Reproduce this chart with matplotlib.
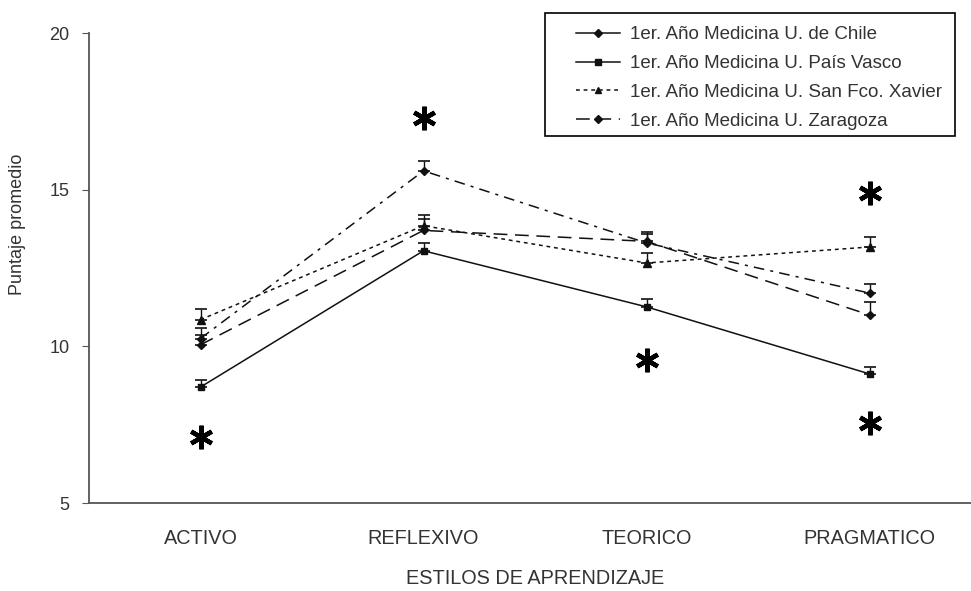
import matplotlib
matplotlib.use("Agg")
import matplotlib.pyplot as plt
from matplotlib.lines import Line2D
from matplotlib.patches import Rectangle

plt.rcParams['font.family'] = ['Liberation Sans', 'DejaVu Sans']

categorias = ["ACTIVO", "REFLEXIVO", "TEORICO", "PRAGMATICO"]

# puntaje promedio y error (solo barra superior)
chile = [10.25, 15.6, 13.3, 11.7]
chile_err = [0.35, 0.3, 0.3, 0.3]
vasco = [8.7, 13.05, 11.26, 9.12]
vasco_err = [0.22, 0.25, 0.25, 0.22]
xavier = [10.85, 13.85, 12.66, 13.17]
xavier_err = [0.35, 0.35, 0.32, 0.33]
zaragoza = [10.05, 13.7, 13.35, 11.0]
zaragoza_err = [0.3, 0.35, 0.3, 0.4]

# posiciones de los asteriscos (diferencias significativas)
ast_x = [0, 1, 2, 3, 3]
ast_y = [7.1, 17.3, 9.55, 14.9, 7.55]

etiquetas = ["1er. Año Medicina U. de Chile",
             "1er. Año Medicina U. País Vasco",
             "1er. Año Medicina U. San Fco. Xavier",
             "1er. Año Medicina U. Zaragoza"]

W, H = 971, 591
fig = plt.figure(figsize=(W/100, H/100), dpi=100)
ax = fig.add_axes([89/W, 88/H, 892/W, 470/H])

x = list(range(len(categorias)))
col = "#111111"
gris = "#333333"

def serie(y, err, marker, ms, dashes):
    ax.errorbar(x, y, yerr=[[0]*len(err), err], fmt='none', ecolor=col,
                elinewidth=1, capsize=4, capthick=1.2, zorder=3)
    ln, = ax.plot(x, y, color=col, lw=1.1, marker=marker, ms=ms,
                  markerfacecolor=col, markeredgecolor=col, zorder=4)
    if dashes:
        ln.set_dashes(dashes)

serie(chile, chile_err, 'D', 4.5, (7, 4, 2, 4))
serie(vasco, vasco_err, 's', 5, None)
serie(xavier, xavier_err, '^', 5.5, (2.5, 2.5))
serie(zaragoza, zaragoza_err, 'D', 4.5, (9, 5))

ax.plot(ast_x, ast_y, linestyle='none', marker=(6, 2, 0), ms=17,
        mew=3.2, color='black', zorder=5)

ax.set_xlim(-0.5, 3.5)
ax.set_ylim(5, 20)
ax.set_yticks([5, 10, 15, 20])
ax.set_xticks(x)
ax.set_xticklabels(categorias)
for s in ['top', 'right']:
    ax.spines[s].set_visible(False)
for s in ['left', 'bottom']:
    ax.spines[s].set_color('#555555')
    ax.spines[s].set_linewidth(1.3)
ax.tick_params(axis='y', direction='out', length=5, color='#555555',
               labelsize=13, labelcolor=gris, pad=9)
ax.tick_params(axis='x', length=0, labelsize=14.3, labelcolor=gris, pad=19)
fig.text(18/W, 1 - 224/H, "Puntaje promedio", rotation=90, ha='center',
         va='center', fontsize=13, color=gris)
fig.text(535/W, 1 - 578/H, "ESTILOS DE APRENDIZAJE", ha='center', va='center',
         fontsize=14.3, color=gris)

# leyenda (el marco se dibuja aparte)
handles = [
    Line2D([], [], color=col, lw=1.1, marker='D', ms=4, markerfacecolor=col),
    Line2D([], [], color=col, lw=1.1, marker='s', ms=4.5, markerfacecolor=col),
    Line2D([], [], color=col, lw=1.1, marker='^', ms=5, markerfacecolor=col, dashes=(2.5, 2.5)),
    Line2D([], [], color=col, lw=1.1, marker='D', ms=4, markerfacecolor=col, dashes=(9, 5)),
]
leg = fig.legend(handles, etiquetas, loc='upper left',
                 bbox_to_anchor=(576/W, 1 - 26/H), fontsize=13.5,
                 frameon=False, handlelength=2.35, handletextpad=0.55,
                 labelspacing=0.63, borderpad=0, borderaxespad=0)
for t in leg.get_texts():
    t.set_color(gris)
fig.patches.append(Rectangle((545/W, 1 - 136/H), 410/W, 123/H,
                             transform=fig.transFigure, fill=False,
                             edgecolor='black', lw=1.2))

fig.savefig("out.png", dpi=100)
